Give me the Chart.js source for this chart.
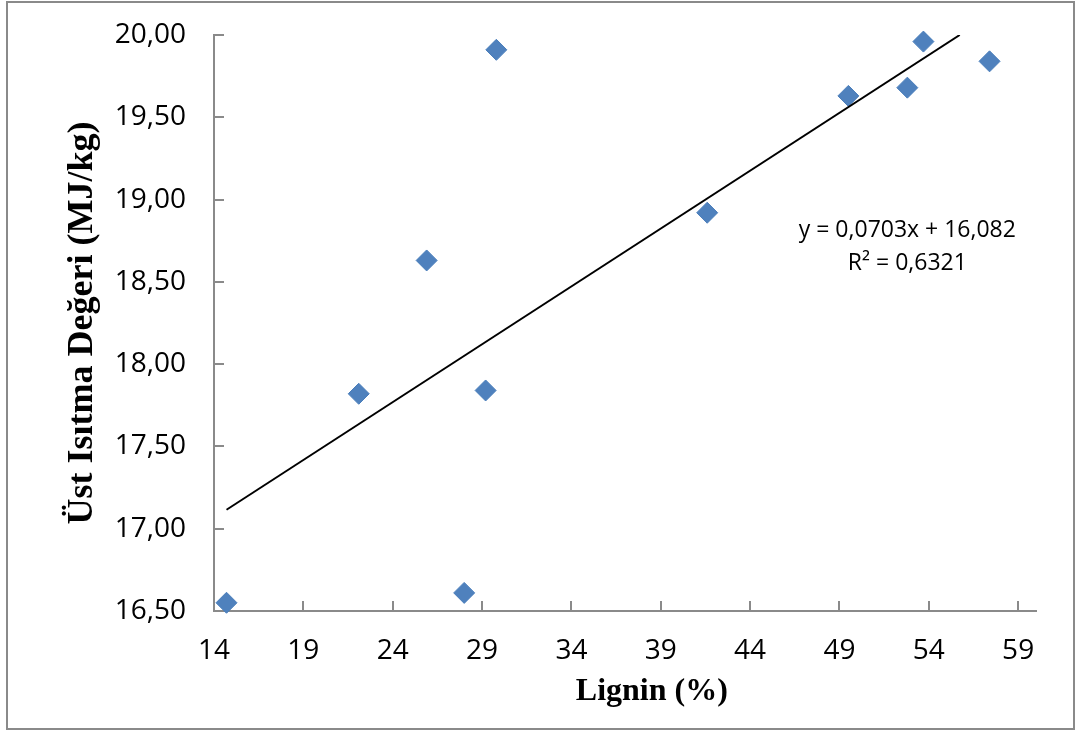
<!DOCTYPE html>
<html>
<head>
<meta charset="utf-8">
<script src="https://cdn.jsdelivr.net/npm/chart.js@4.4.0/dist/chart.umd.min.js"></script>
<style>
  html, body { margin: 0; padding: 0; background: #fff; }
  #wrap { position: relative; width: 1079px; height: 732px; }
  #frame { position: absolute; left: 6px; top: 1px; width: 1065px; height: 725px; border: 2px solid #8a8a8a; }
  canvas { position: absolute; left: 0; top: 0; }
</style>
</head>
<body>
<div id="wrap">
  <div id="frame"></div>
  <canvas id="chart" width="1079" height="732"></canvas>
</div>
<script>
// measured values
const lignin = [14.7, 22.1, 25.9, 28.0, 29.2, 29.8, 41.6, 49.5, 52.8, 53.7, 57.4];
const heatValue = [16.55, 17.82, 18.63, 16.61, 17.84, 19.91, 18.92, 19.63, 19.68, 19.96, 19.84];

// linear trendline from the chart label
const slope = 0.0703;
const intercept = 16.082;
const rSquared = 0.6321;

const xTickValues = [14, 19, 24, 29, 34, 39, 44, 49, 54, 59];
const xMin = 14, xMax = 60;
const yMin = 16.5, yMax = 20;

const fmt = (v, d) => v.toFixed(d).replace(".", ",");

// trendline runs from the first point until it leaves the top of the plot
const trendStart = Math.min(...lignin);
const trendEnd = Math.min(Math.max(...lignin), (yMax - intercept) / slope);
const trendPoints = [trendStart, trendEnd].map(x => ({ x: x, y: slope * x + intercept }));

const insideTicks = {
    id: "insideTicks",
    afterDraw(chart) {
        const { ctx, chartArea, scales } = chart;
        ctx.save();
        ctx.strokeStyle = "#8a8a8a";
        ctx.lineWidth = 2;
        ctx.beginPath();
        scales.x.ticks.forEach(t => {
            const px = Math.round(scales.x.getPixelForValue(t.value));
            if (px <= chartArea.left + 1) return;
            ctx.moveTo(px, chartArea.bottom);
            ctx.lineTo(px, chartArea.bottom - 10);
        });
        scales.y.ticks.forEach(t => {
            const py = Math.round(scales.y.getPixelForValue(t.value));
            if (py >= chartArea.bottom - 1) return;
            ctx.moveTo(chartArea.left, py);
            ctx.lineTo(chartArea.left + 10, py);
        });
        ctx.stroke();
        ctx.restore();
    }
};

// equation text and the x title (which sits right of the axis centre in the original)
const chartTexts = {
    id: "chartTexts",
    afterDraw(chart) {
        const { ctx, scales } = chart;
        const px = scales.x.getPixelForValue(52.8);
        ctx.save();
        ctx.fillStyle = "#000";
        ctx.textAlign = "center";
        ctx.textBaseline = "middle";
        ctx.font = "23px 'Open Sans'";
        ctx.fillText("y = " + fmt(slope, 4) + "x + " + fmt(intercept, 3), px, scales.y.getPixelForValue(18.81));
        ctx.fillText("R² = " + fmt(rSquared, 4), px, scales.y.getPixelForValue(18.61));
        ctx.font = "bold 32px 'Liberation Serif'";
        ctx.fillText("Lignin (%)", scales.x.getPixelForValue(38.5), 692);
        ctx.restore();
    }
};

new Chart(document.getElementById("chart"), {
    type: "scatter",
    data: {
        datasets: [
            {
                label: "Trend",
                type: "line",
                data: trendPoints,
                borderColor: "#000",
                borderWidth: 2,
                pointRadius: 0,
                fill: false
            },
            {
                label: "Üst Isıtma Değeri",
                data: lignin.map((x, i) => ({ x: x, y: heatValue[i] })),
                pointStyle: "rectRot",
                pointRadius: 10.5,
                backgroundColor: "#4F81BD",
                borderColor: "#4A7EBB",
                borderWidth: 1,
                clip: false
            }
        ]
    },
    options: {
        responsive: false,
        animation: false,
        layout: { padding: { top: 0, right: 43, left: 0, bottom: 0 } },
        plugins: {
            legend: { display: false },
            tooltip: { enabled: false }
        },
        scales: {
            x: {
                type: "linear",
                min: xMin,
                max: xMax,
                afterBuildTicks: scale => {
                    scale.ticks = xTickValues.map(v => ({ value: v }));
                },
                afterFit: scale => { scale.height = 121; },
                grid: { display: false, drawTicks: false },
                border: { display: true, color: "#8a8a8a", width: 2 },
                ticks: {
                    color: "#000",
                    padding: 23,
                    maxRotation: 0,
                    font: { family: "'Open Sans'", size: 28 }
                }
            },
            y: {
                min: yMin,
                max: yMax,
                afterFit: scale => { scale.width = 214; },
                grid: { display: false, drawTicks: false },
                border: { display: true, color: "#8a8a8a", width: 2 },
                ticks: {
                    stepSize: 0.5,
                    color: "#000",
                    padding: 28,
                    // small line height so the top label does not push the plot down
                    font: { family: "'Open Sans'", size: 28, lineHeight: 0.5 },
                    callback: v => fmt(v, 2)
                },
                title: {
                    display: true,
                    text: "Üst Isıtma Değeri (MJ/kg)",
                    color: "#000",
                    padding: { top: 61, bottom: 0 },
                    font: { family: "'Liberation Serif'", size: 36, weight: "bold" }
                }
            }
        }
    },
    plugins: [insideTicks, chartTexts]
});
</script>
</body>
</html>
